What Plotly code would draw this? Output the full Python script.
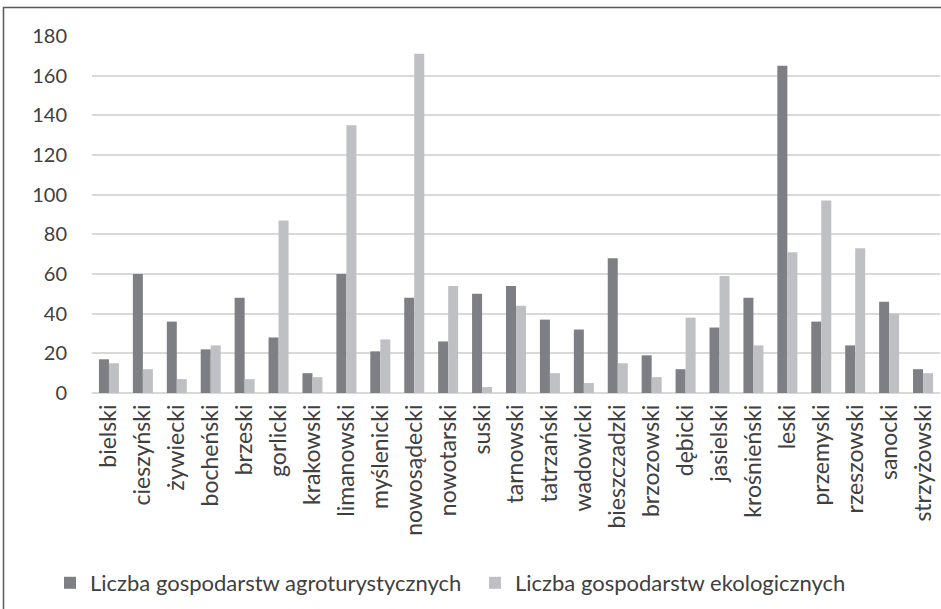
import plotly.graph_objects as go

categories = ["bielski", "cieszyński", "żywiecki", "bocheński", "brzeski", "gorlicki",
              "krakowski", "limanowski", "myślenicki", "nowosądecki", "nowotarski", "suski",
              "tarnowski", "tatrzański", "wadowicki", "bieszczadzki", "brzozowski", "dębicki",
              "jasielski", "krośnieński", "leski", "przemyski", "rzeszowski", "sanocki",
              "strzyżowski"]
agro = [17, 60, 36, 22, 48, 28, 10, 60, 21, 48, 26, 50, 54, 37, 32, 68, 19, 12, 33, 48,
        165, 36, 24, 46, 12]
eko = [15, 12, 7, 24, 7, 87, 8, 135, 27, 171, 54, 3, 44, 10, 5, 15, 8, 38, 59, 24,
       71, 97, 73, 40, 10]
series_names = ["Liczba gospodarstw agroturystycznych", "Liczba gospodarstw ekologicznych"]
y_ticks = [0, 20, 40, 60, 80, 100, 120, 140, 160, 180]

FONT = "Lato, Carlito, 'Open Sans', sans-serif"
TXT = "#404040"

fig = go.Figure()
fig.add_trace(go.Bar(x=categories, y=agro, name=series_names[0],
                     marker=dict(color="#7e7f84", line=dict(width=0))))
fig.add_trace(go.Bar(x=categories, y=eko, name=series_names[1],
                     marker=dict(color="#bfc0c4", line=dict(width=0))))

W, H = 941, 609
L, R, T, B = 92, 1, 36, 215.5
pw = W - L - R
ph = H - T - B

def px_x(p):
    return (p - L) / pw

def px_y(p):
    return (H - B - p) / ph

fig.update_layout(
    width=W, height=H,
    margin=dict(l=L, r=R, t=T, b=B, pad=0),
    paper_bgcolor="white", plot_bgcolor="white",
    barmode="group", bargap=0.41, bargroupgap=0,
    font=dict(family=FONT, size=21, color=TXT),
    showlegend=True,
    legend=dict(orientation="h", xref="container", yref="container",
                x=50 / W, y=1 - 583 / H, xanchor="left", yanchor="middle",
                font=dict(family=FONT, size=22, color=TXT),
                entrywidth=380, entrywidthmode="pixels",
                bgcolor="rgba(0,0,0,0)", traceorder="normal"),
    xaxis=dict(tickangle=-90, tickfont=dict(family=FONT, size=23, color=TXT),
               showgrid=False, showline=False, zeroline=False, ticks="",
               ticklabelstandoff=6, fixedrange=True),
    yaxis=dict(range=[0, 180], tickvals=y_ticks, ticktext=[str(v) for v in y_ticks],
               tickfont=dict(family=FONT, size=20, color=TXT),
               showgrid=True, gridcolor="#d9d9d9", gridwidth=1.5,
               zeroline=True, zerolinecolor="#d9d9d9", zerolinewidth=1.5,
               showline=False, ticks="", ticklabelstandoff=24, fixedrange=True),
    shapes=[dict(type="rect", xref="paper", yref="paper",
                 x0=px_x(3.5), x1=px_x(945), y0=px_y(620), y1=px_y(7.5),
                 line=dict(color="#595959", width=1.5), fillcolor="rgba(0,0,0,0)",
                 layer="below")],
)

fig.write_html("out.html", config={"displayModeBar": False})

# remove default browser body margin so the figure sits at the page origin
with open("out.html", "r", encoding="utf-8") as f:
    html = f.read()
html = html.replace("<head>", "<head><style>html,body{margin:0;padding:0;overflow:hidden;}</style>", 1)
with open("out.html", "w", encoding="utf-8") as f:
    f.write(html)
